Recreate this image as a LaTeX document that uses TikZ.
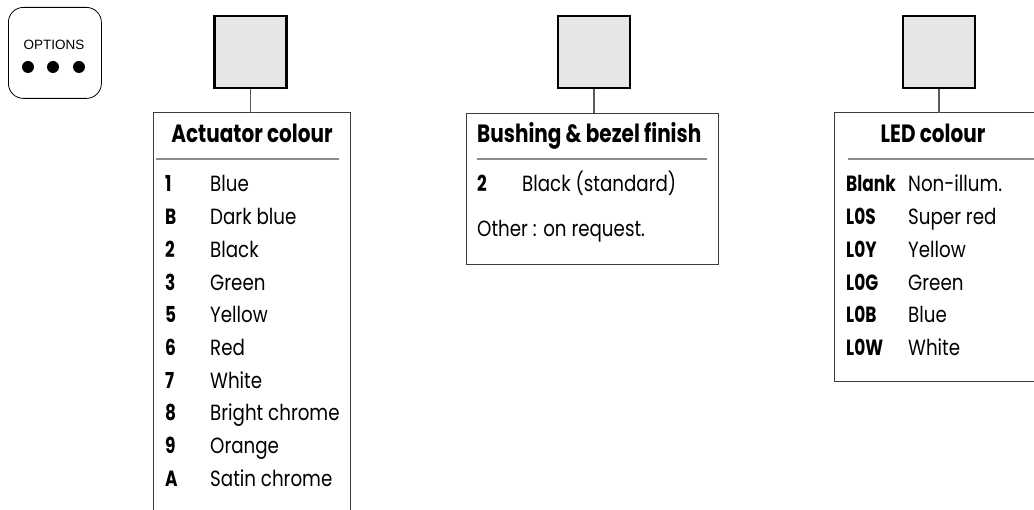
\documentclass[tikz,border=0pt]{standalone}
\usepackage{fontspec}
\setmainfont{Poppins}[FakeStretch=0.83]
\newfontfamily\codefont{Poppins}[FakeStretch=0.77]
\newfontfamily\ttlfont{Poppins}[FakeStretch=0.8]
\newfontfamily\optfont{Liberation Sans}
\definecolor{sqfill}{RGB}{230,230,230}
\definecolor{connc}{RGB}{90,90,90}
\definecolor{framec}{RGB}{60,60,60}
\definecolor{rulec}{RGB}{140,140,140}
\begin{document}
\begin{tikzpicture}[x=1pt,y=-1pt,
  sq/.style={draw=black, line width=2.5pt, fill=sqfill, minimum size=72pt, inner sep=0pt},
  conn/.style={draw=connc, line width=1.3pt},
  frame/.style={draw=framec, line width=1pt},
  rulel/.style={draw=rulec, line width=1.6pt},
  code/.style={anchor=base west, font=\codefont\bfseries\fontsize{22}{26}\selectfont, inner sep=0pt},
  desc/.style={anchor=base west, font=\fontsize{22}{26}\selectfont, inner sep=0pt},
  ttl/.style={font=\ttlfont\bfseries\fontsize{25}{28}\selectfont, inner sep=0pt},
  dot/.style={circle, fill=black, minimum size=12pt, inner sep=0pt}
]
\useasboundingbox (0,0) rectangle (1034,510);
\clip (0,0) rectangle (1034,510);

% Options badge
\node[draw=black, line width=0.8pt, rounded corners=15pt, minimum width=93pt, minimum height=91pt, anchor=north west] (opt) at (8,7) {};
\node[font=\optfont\fontsize{13.5}{16}\selectfont, inner sep=0pt] (opttxt) at (54,45) {OPTIONS};
\node[dot] (d1) at (28,67) {};
\node[dot] (d2) at (53,67) {};
\node[dot] (d3) at (79,67) {};

% Squares
\node[sq] (sqA) at (250.5,52) {};
\node[sq] (sqB) at (594,52) {};
\node[sq] (sqC) at (939,52) {};

% Actuator colour box (open at bottom)
\coordinate (aTL) at (153,113);
\coordinate (aTR) at (350,113);
\coordinate (aBL) at (153,515);
\coordinate (aBR) at (350,515);
\draw[frame] (aBL) -- (aTL) -- (aTR) -- (aBR);
\draw[conn] (sqA.south) -- (sqA.south |- aTL);
\node[ttl, anchor=base] (aTitle) at (252,143) {Actuator colour};
\coordinate (aR1) at (156,159);
\coordinate (aR2) at (339,159);
\draw[rulel] (aR1) -- (aR2);
\foreach \c/\d [count=\i from 0] in {1/Blue, B/Dark blue, 2/Black, 3/Green, 5/Yellow, 6/Red, 7/White, 8/Bright chrome, 9/Orange, A/Satin chrome}{
  \node[code] (ac\i) at (165,{192+32.7*\i}) {\c};
  \node[desc] (ad\i) at (210,{192+32.7*\i}) {\d};
}

% Bushing & bezel finish box
\node[frame, minimum width=252pt, minimum height=151pt, anchor=north west, inner sep=0pt] (bBox) at (466,113) {};
\draw[conn] (sqB.south) -- (sqB.south |- bBox.north);
\node[ttl, anchor=base west] (bTitle) at (477,143) {Bushing \& bezel finish};
\coordinate (bR1) at (477,159);
\coordinate (bR2) at (707,159);
\draw[rulel] (bR1) -- (bR2);
\node[code] (bc0) at (477,192) {2};
\node[desc] (bd0) at (522,192) {Black (standard)};
\node[desc] (bo) at (477,237) {Other : on request.};

% LED colour box (cut at right edge)
\coordinate (cTL) at (834,113);
\coordinate (cTR) at (1040,113);
\coordinate (cBL) at (834,382);
\coordinate (cBR) at (1040,382);
\draw[frame] (cTR) -- (cTL) -- (cBL) -- (cBR);
\draw[conn] (sqC.south) -- (sqC.south |- cTL);
\node[ttl, anchor=base] (cTitle) at (933,143) {LED colour};
\coordinate (cR1) at (848,159);
\coordinate (cR2) at (1040,159);
\draw[rulel] (cR1) -- (cR2);
\foreach \c/\d [count=\i from 0] in {Blank/Non-illum., L0S/Super red, L0Y/Yellow, L0G/Green, L0B/Blue, L0W/White}{
  \node[code] (cc\i) at (846,{192+32.7*\i}) {\c};
  \node[desc] (cd\i) at (908,{192+32.7*\i}) {\d};
}
\end{tikzpicture}
\end{document}
